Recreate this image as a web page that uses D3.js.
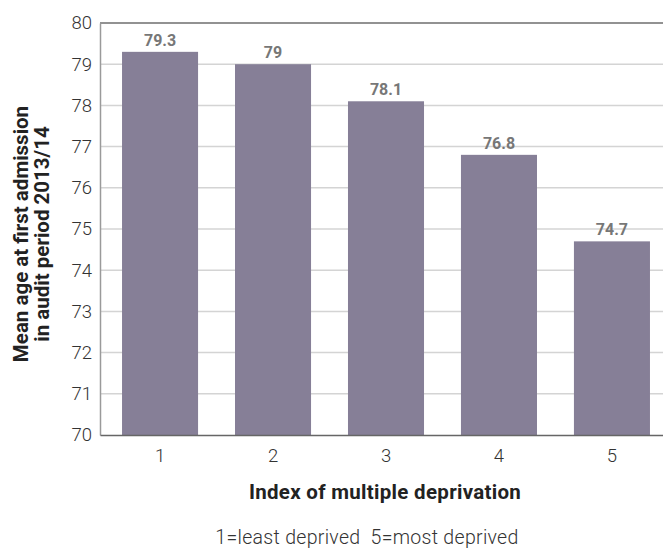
<!DOCTYPE html>
<html>
<head>
<meta charset="utf-8">
<script src="https://cdn.jsdelivr.net/npm/d3@7"></script>
<style>
  html, body { margin: 0; padding: 0; background: #fff; overflow: hidden; }
  svg { display: block; font-family: Roboto, "DejaVu Sans", sans-serif; }
</style>
</head>
<body>
<svg id="chart" width="663" height="549"></svg>
<script>
// Deprivation quintiles and mean age at first admission
const categories = ["1", "2", "3", "4", "5"];
const meanAge = [79.3, 79, 78.1, 76.8, 74.7];
const yTicks = [70, 71, 72, 73, 74, 75, 76, 77, 78, 79, 80];
const yTitleLines = ["Mean age at first admission", "in audit period 2013/14"];
const xTitle = "Index of multiple deprivation";
const footnote = "1=least deprived  5=most deprived";

const svg = d3.select("#chart");
const plotLeft = 100, plotRight = 672, plotTop = 23, plotBottom = 435;

const x = d3.scaleBand()
  .domain(categories)
  .range([plotLeft, plotRight])
  .paddingInner(0.327)
  .paddingOuter(0.195);

const y = d3.scaleLinear().domain([70, 80]).range([plotBottom, plotTop]);

// horizontal gridlines
svg.append("g")
  .selectAll("line")
  .data(yTicks.filter(t => t > 70 && t < 80))
  .join("line")
  .attr("x1", plotLeft).attr("x2", plotRight)
  .attr("y1", d => y(d)).attr("y2", d => y(d))
  .attr("stroke", "#d4d4d4").attr("stroke-width", 1.5);

// top frame line
svg.append("line")
  .attr("x1", plotLeft).attr("x2", plotRight)
  .attr("y1", y(80)).attr("y2", y(80))
  .attr("stroke", "#6e6e6e").attr("stroke-width", 1.5);

// bars
svg.append("g")
  .selectAll("rect")
  .data(meanAge)
  .join("rect")
  .attr("x", (d, i) => x(categories[i]))
  .attr("width", x.bandwidth())
  .attr("y", d => y(d))
  .attr("height", d => y(70) - y(d))
  .attr("fill", "#867f97");

// value labels
svg.append("g")
  .selectAll("text")
  .data(meanAge)
  .join("text")
  .attr("x", (d, i) => x(categories[i]) + x.bandwidth() / 2)
  .attr("y", d => y(d) - 6)
  .attr("text-anchor", "middle")
  .attr("font-size", 16)
  .attr("font-weight", "bold")
  .attr("fill", "#777")
  .text(d => d);

// left axis
const yAxis = svg.append("g")
  .attr("transform", `translate(${plotLeft},0)`)
  .call(d3.axisLeft(y).tickValues(yTicks).tickSize(0).tickPadding(8).tickFormat(d3.format("d")));
yAxis.select(".domain").attr("stroke", "#9a9a9a").attr("stroke-width", 1.5);
yAxis.selectAll("text")
  .attr("font-size", 18.5)
  .attr("fill", "#333")
  .attr("font-family", "Roboto, sans-serif")
  .attr("font-weight", 300);

// bottom axis
const xAxis = svg.append("g")
  .attr("transform", `translate(0,${plotBottom})`)
  .call(d3.axisBottom(x).tickSize(0).tickPadding(14));
xAxis.select(".domain").attr("stroke", "#666").attr("stroke-width", 1.5);
xAxis.selectAll("text")
  .attr("font-size", 18.5)
  .attr("fill", "#333")
  .attr("font-family", "Roboto, sans-serif")
  .attr("font-weight", 300);

// y axis title
const yTitle = svg.append("text")
  .attr("transform", "translate(0,234) rotate(-90)")
  .attr("text-anchor", "middle")
  .attr("font-size", 20.5)
  .attr("font-weight", "bold")
  .attr("fill", "#222");
yTitle.selectAll("tspan")
  .data(yTitleLines)
  .join("tspan")
  .attr("x", 0)
  .attr("y", (d, i) => 28 + i * 21)
  .text(d => d);

// x axis title
svg.append("text")
  .attr("x", 385)
  .attr("y", 499)
  .attr("text-anchor", "middle")
  .attr("font-size", 20.5)
  .attr("font-weight", "bold")
  .attr("letter-spacing", 0.3)
  .attr("fill", "#222")
  .text(xTitle);

// footnote
svg.append("text")
  .attr("x", 367)
  .attr("y", 544)
  .attr("text-anchor", "middle")
  .attr("font-size", 19.5)
  .attr("font-weight", 300)
  .attr("letter-spacing", 0.3)
  .attr("fill", "#333")
  .attr("xml:space", "preserve")
  .style("white-space", "pre")
  .text(footnote);
</script>
</body>
</html>
